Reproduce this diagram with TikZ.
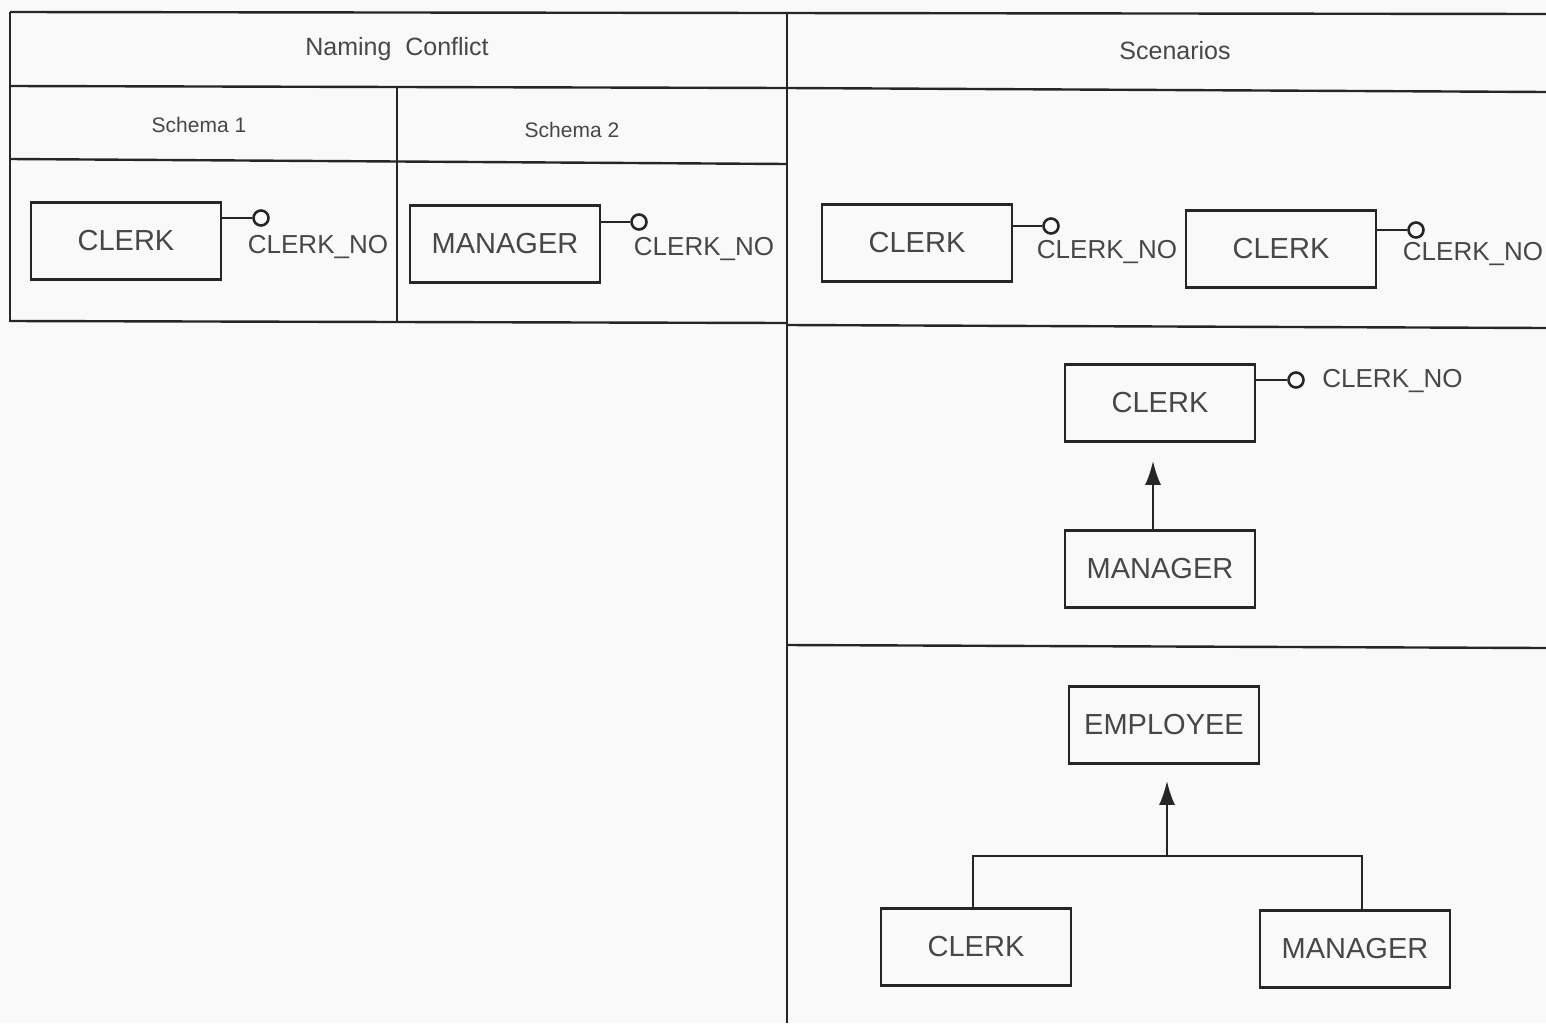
\documentclass[tikz,border=0pt]{standalone}
\usepackage{fontspec}
\setmainfont{Liberation Sans}
\usetikzlibrary{arrows.meta}
\definecolor{ink}{gray}{0.15}
\definecolor{paper}{gray}{0.975}
\begin{document}
\begin{tikzpicture}[x=0.5pt,y=-0.5pt,
  rule/.style={draw=ink,line width=1.2pt},
  entity/.style={draw=ink,line width=1.3pt,minimum width=95pt,minimum height=38.5pt,
    inner sep=0pt,font=\fontsize{14.5}{16}\selectfont,text=ink!85},
  attrline/.style={draw=ink,line width=1.4pt},
  attrdot/.style={circle,draw=ink,line width=1.3pt,minimum size=7.5pt,inner sep=0pt},
  attrtext/.style={font=\fontsize{13}{15}\selectfont,text=ink!85,inner sep=0pt},
  head/.style={font=\fontsize{12.5}{15}\selectfont,text=ink!85},
  subhead/.style={font=\fontsize{10.5}{13}\selectfont,text=ink!85},
  isa/.style={draw=ink,line width=1.2pt,-{Latex[length=12pt,width=8pt]}}]

% page
\fill[paper] (0,0) rectangle (1546,1023);
\useasboundingbox (0,0) rectangle (1546,1023);

% table grid
\draw[rule] (10,12) -- (1546,14);
\draw[rule] (10,12) -- (10,322);
\draw[rule] (787,12) -- (787,1023);
\draw[rule] (10,86) -- (787,88);
\draw[rule] (787,88) -- (1546,92);
\draw[rule] (10,159) -- (787,164);
\draw[rule] (397,86) -- (397,322);
\draw[rule] (10,321) -- (787,323);
\draw[rule] (787,325) -- (1546,328);
\draw[rule] (787,645) -- (1546,648);

% headings
\node[head] (hnc) at (397,49) {Naming\ \ Conflict};
\node[head] (hsc) at (1175,51) {Scenarios};
\node[subhead] (hs1) at (199,125) {Schema 1};
\node[subhead] (hs2) at (572,130) {Schema 2};

% schema 1
\node[entity] (c1) at (126,241) {CLERK};
\node[attrdot] (d1) at (261,218) {};
\draw[attrline] (c1.east |- d1) -- (d1);
\node[attrtext] (k1) at (318,247) {CLERK\_NO};

% schema 2
\node[entity] (m1) at (505,244) {MANAGER};
\node[attrdot] (d2) at (639,222) {};
\draw[attrline] (m1.east |- d2) -- (d2);
\node[attrtext] (k2) at (704,249) {CLERK\_NO};

% scenario 1: two clerks
\node[entity] (c2) at (917,243) {CLERK};
\node[attrdot] (d3) at (1051,226) {};
\draw[attrline] (c2.east |- d3) -- (d3);
\node[attrtext] (k3) at (1107,252) {CLERK\_NO};

\node[entity] (c3) at (1281,249) {CLERK};
\node[attrdot] (d4) at (1416,230) {};
\draw[attrline] (c3.east |- d4) -- (d4);
\node[attrtext] (k4) at (1473,254) {CLERK\_NO};

% scenario 2: manager is a clerk
\node[entity] (c4) at (1160,403) {CLERK};
\node[attrdot] (d5) at (1296,380) {};
\draw[attrline] (c4.east |- d5) -- (d5);
\node[attrtext,anchor=west] (k5) at (1322,381) {CLERK\_NO};

\node[entity] (m2) at (1160,569) {MANAGER};
\draw[isa] (m2.north -| 1153,0) -- ([yshift=-9pt]c4.south -| 1153,0);

% scenario 3: generalisation
\node[entity] (e1) at (1164,725) {EMPLOYEE};
\node[entity] (c5) at (976,947) {CLERK};
\node[entity] (m3) at (1355,949) {MANAGER};
\coordinate (jn) at (1167,856);
\draw[rule] (c5.north -| 973,0) -- (973,856) -- (1362,856) -- (m3.north -| 1362,0);
\draw[isa] (jn) -- ([yshift=-8pt]e1.south -| jn);

\end{tikzpicture}
\end{document}
